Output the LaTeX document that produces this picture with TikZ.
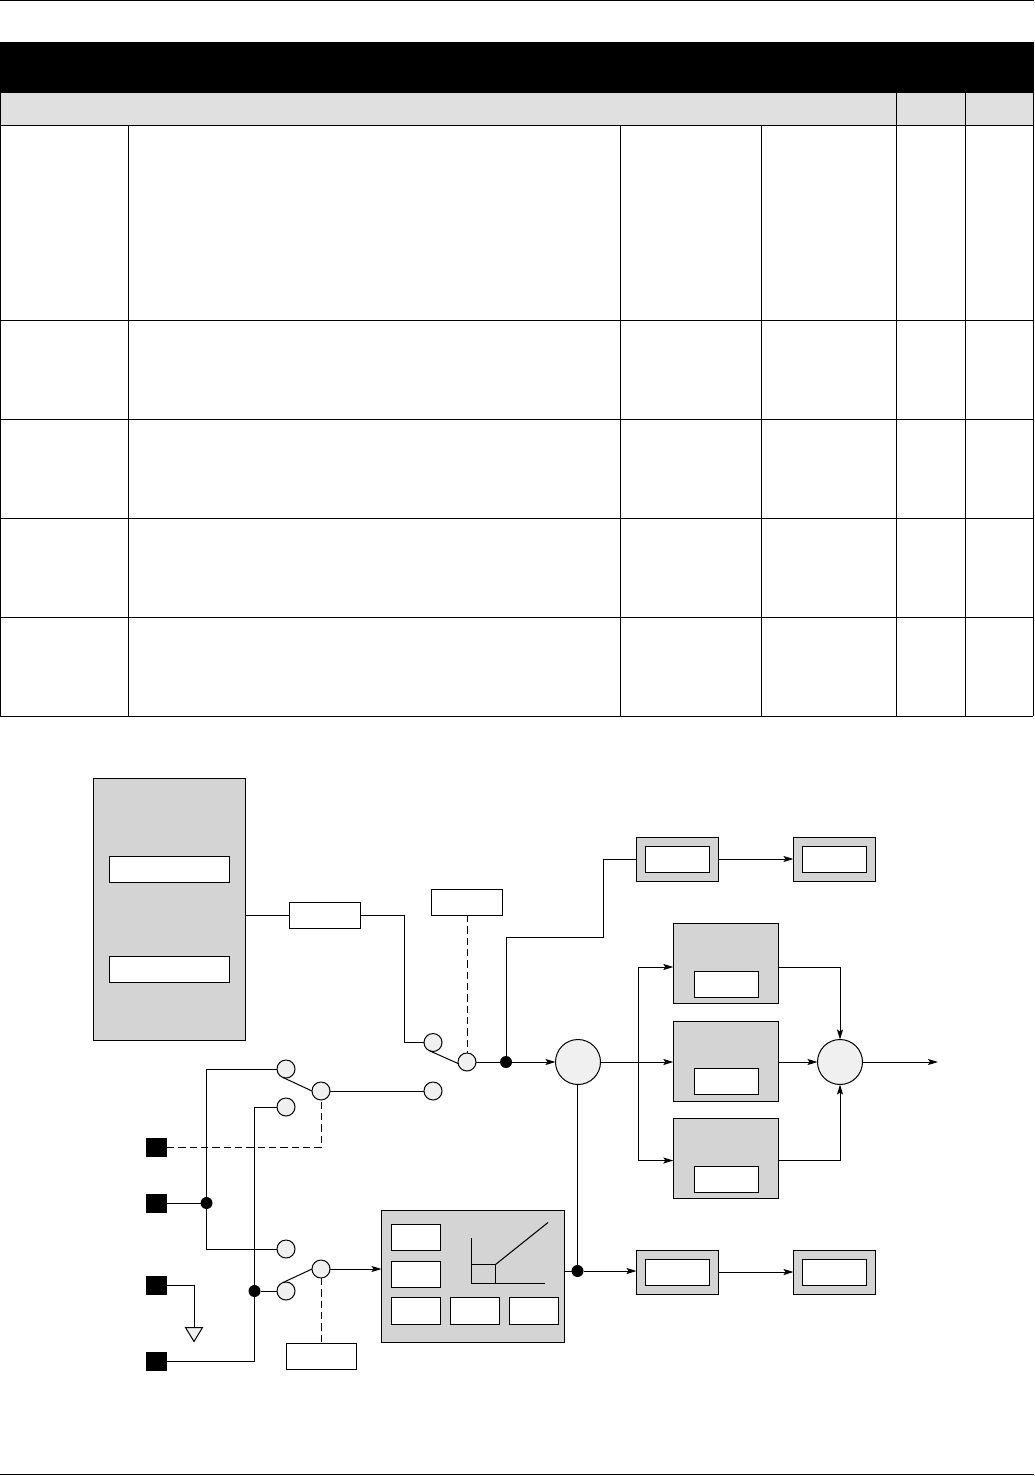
\documentclass[tikz,border=0pt]{standalone}
\usepackage{tikz}
\usetikzlibrary{arrows.meta}
\definecolor{ink}{gray}{0}
\definecolor{panel}{gray}{0.83}
\definecolor{band}{gray}{0.88}
\definecolor{pale}{gray}{0.94}

\begin{document}
\begin{tikzpicture}[
  x=.75pt, y=-.75pt,
  line width=.75pt,
  plain/.style={draw=ink, rectangle, inner sep=0pt, outer sep=0pt},
  slot/.style={plain, fill=white},
  panelbox/.style={plain, fill=panel},
  unit/.style={panelbox, minimum width=61.5pt, minimum height=33pt},
  unitslot/.style={slot, minimum width=48.25pt, minimum height=19.5pt},
  stage/.style={panelbox, minimum width=79pt, minimum height=60.5pt},
  cell/.style={slot, minimum width=37pt, minimum height=19.75pt},
  tag/.style={slot, minimum width=53pt, minimum height=19.5pt},
  contact/.style={draw=ink, circle, fill=pale, inner sep=0pt, outer sep=0pt, minimum size=13.5pt},
  joint/.style={circle, fill=ink, inner sep=0pt, outer sep=0pt, minimum size=9pt},
  mixer/.style={draw=ink, circle, fill=pale, inner sep=0pt, outer sep=0pt, minimum size=33.75pt},
  pin/.style={rectangle, fill=ink, inner sep=0pt, outer sep=0pt, minimum width=15.75pt, minimum height=14.25pt},
  ar/.style={-{Stealth[length=7.5pt, width=4.5pt, inset=1.5pt]}},
  ctl/.style={dash pattern=on 5.5pt off 3pt},
]
\useasboundingbox (0,0) rectangle (1034,1476);

\draw (0,.5) -- (1034,.5);
\draw (0,1474) -- (1034,1474);
\fill[ink] (0,42) rectangle (1034,93);
\fill[band] (0,93) rectangle (1034,125);
\foreach \rowy in {125.5,320,419,518,617,716}
  \draw (0,\rowy) -- (1033,\rowy);
\foreach \colx in {128,620,761}
  \draw (\colx,125) -- (\colx,716);
\foreach \colx in {.5,896.5,965.5,1033}
  \draw (\colx,93) -- (\colx,716);

\node[panelbox, minimum width=114.25pt, minimum height=196.5pt] (store) at (169.5,909) {};
\node[slot, minimum width=90.25pt, minimum height=19.5pt] (storeA) at (169.5,869.5) {};
\node[slot, minimum width=90.25pt, minimum height=19.5pt] (storeB) at (169.5,969) {};
\node[tag] (amp) at (325,915) {};
\node[tag] (sel) at (467,902) {};
\node[tag] (lowsel) at (321.5,1356.5) {};

\node[contact] (inA) at (433,1042.5) {};
\node[contact] (swA) at (467,1062) {};
\node[contact] (inB) at (286,1069) {};
\node[contact] (swB) at (321,1091) {};
\node[contact] (inC) at (286,1107) {};
\node[contact] (feed) at (433,1091) {};
\node[contact] (inD) at (286,1249) {};
\node[contact] (inE) at (286,1291) {};
\node[contact] (swC) at (321,1269) {};

\node[joint] (nodeA) at (506,1062) {};
\node[joint] (nodeB) at (577.5,1271) {};
\node[joint] (nodeC) at (206.5,1203) {};
\node[joint] (nodeD) at (254.5,1291) {};

\node[mixer] (sumA) at (578,1062) {};
\node[mixer] (sumB) at (840,1062) {};

\node[unit] (topA) at (677.5,859) {};
\node[unitslot] (topAin) at (677.5,859) {};
\node[unit] (topB) at (834.5,859) {};
\node[unitslot] (topBin) at (834.5,859) {};
\node[unit] (lowA) at (677.5,1272) {};
\node[unitslot] (lowAin) at (677.5,1272) {};
\node[unit] (lowB) at (834.5,1272) {};
\node[unitslot] (lowBin) at (834.5,1272) {};

\node[stage] (stageA) at (726,963.5) {};
\node[unitslot] (stageAin) at (726.5,984) {};
\node[stage] (stageB) at (726,1061.5) {};
\node[unitslot] (stageBin) at (726.5,1081) {};
\node[stage] (stageC) at (726,1158.5) {};
\node[unitslot] (stageCin) at (726.5,1179) {};

\node[panelbox, minimum width=137.25pt, minimum height=99pt] (ctrl) at (473,1276) {};
\node[cell] (cellA) at (416,1237.5) {};
\node[cell] (cellB) at (416,1274.5) {};
\node[cell] (cellC) at (416,1311) {};
\node[cell] (cellD) at (475,1311) {};
\node[cell] (cellE) at (534,1311) {};

\node[pin] (pinA) at (156.5,1147.5) {};
\node[pin] (pinB) at (156.5,1203) {};
\node[pin] (pinC) at (156.5,1285.5) {};
\node[pin] (pinD) at (156.5,1361.5) {};

\coordinate (bendA) at (404.5,1000);
\coordinate (bendB) at (603.5,937.5);
\coordinate (brtop) at (638,967);
\coordinate (brbot) at (638,1160.5);
\coordinate (gnd) at (194,1327.5);
\coordinate (axisA) at (471.5,1238);
\coordinate (axisB) at (471.5,1283.5);
\coordinate (axisC) at (545,1283.5);
\coordinate (kneeA) at (471.5,1264.5);
\coordinate (kneeB) at (495.5,1264.5);
\coordinate (kneeC) at (495.5,1283.5);
\coordinate (rise) at (548,1222.5);
\coordinate (outp) at (938,1062);

\draw (amp.west) -- (amp.west -| store.east);
\draw (amp.east) -| (bendA) |- (inA.west);
\draw (inA.250) -- (swA.190);
\draw[ctl] (sel.south) -- (swA.north);
\draw (swA.east) -- (nodeA);
\draw[ar] (nodeA) -- (sumA.west);
\draw (nodeA) |- (bendB) |- (topA.west);
\draw[ar] (topA.east) -- (topB.west);

\draw (brtop) -- (brbot);
\draw[ar] (sumA.east) -- (sumA.east -| stageB.west);
\draw[ar] (brtop) -- (brtop -| stageA.west);
\draw[ar] (brbot) -- (brbot -| stageC.west);
\draw[ar] (brtop -| stageA.east) -| (sumB.north);
\draw[ar] (sumB.west -| stageB.east) -- (sumB.west);
\draw[ar] (brbot -| stageC.east) -| (sumB.south);
\draw[ar] (sumB.east) -- (outp);

\draw (sumA.south -| nodeB) -- (nodeB);
\draw (nodeB -| ctrl.east) -- (nodeB);
\draw[ar] (nodeB) -- (nodeB -| lowA.west);
\draw[ar] (lowA.east) -- (lowB.west);

\draw (inB.250) -- (swB.180);
\draw (swB.east) -- (feed.west);
\draw (inB.west) -| (nodeC);
\draw (nodeC) |- (inD.west);
\draw (pinB.east) -- (nodeC);
\draw (inC.west) -| (nodeD);
\draw (nodeD) |- (pinD.east);
\draw (nodeD) -- (inE.west);
\draw[ctl] (pinA.east) -| (swB.south);
\draw (pinC.east) -| (gnd);
\draw[fill=pale] (gnd) ++(-8.5,0) -- ++(17,0) -- ++(-8.5,14) -- cycle;

\draw (inE.110) -- (swC.180);
\draw[ar] (swC.east) -- (swC.east -| ctrl.west);
\draw[ctl] (swC.south) -- (swC.south |- lowsel.north);

\draw (axisA) -- (axisB) -- (axisC);
\draw (kneeA) -- (kneeB) -- (kneeC);
\draw (kneeB) -- (rise);
\end{tikzpicture}
\end{document}
